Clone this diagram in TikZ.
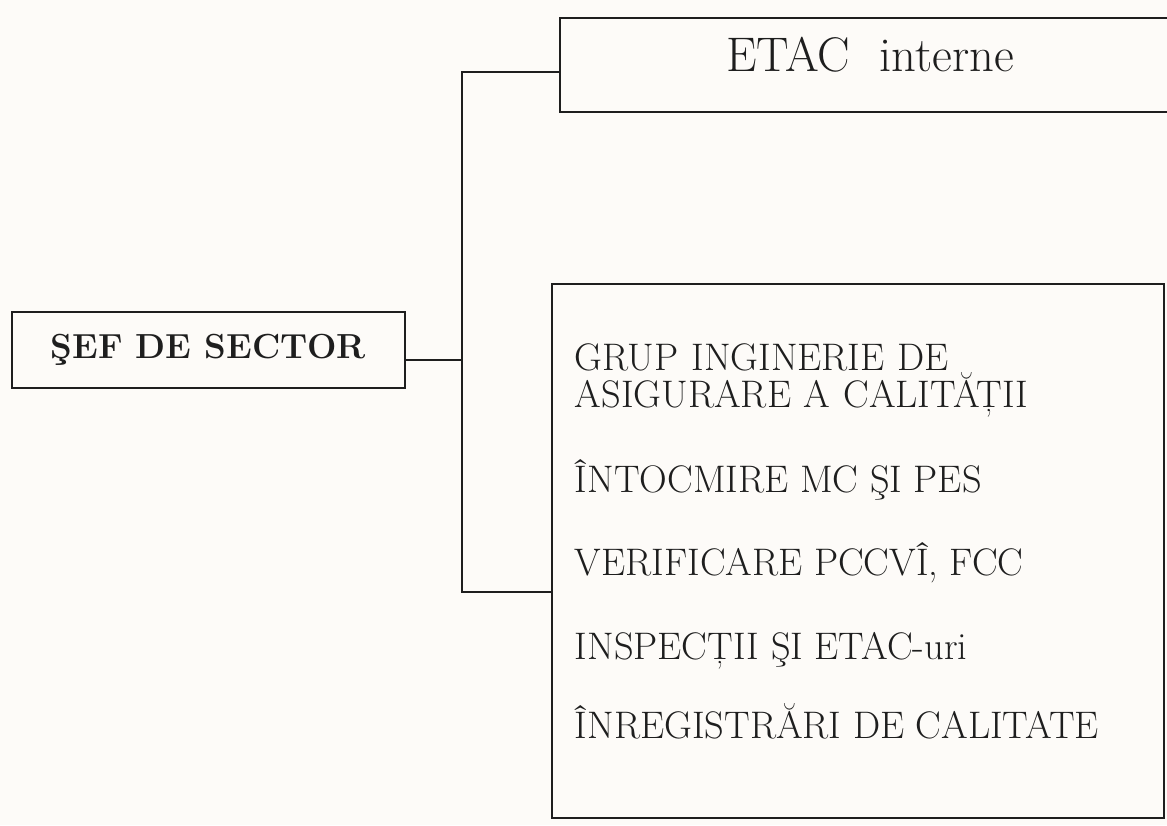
\documentclass[tikz,border=0pt]{standalone}
\usepackage{fontspec}
\usepackage{tikz}
\usetikzlibrary{positioning,calc}
\definecolor{ink}{RGB}{30,30,30}
\definecolor{paper}{RGB}{253,251,248}

\begin{document}
\begin{tikzpicture}[x=0.5pt,y=-0.5pt,line width=0.9pt,
  unitbox/.style={draw=ink,rectangle,inner sep=0pt,text=ink},
  taskline/.style={anchor=base west,inner sep=0pt,text=ink,font=\fontsize{19.2}{18.5}\selectfont}]
  \fill[paper] (0,0) rectangle (1167,825);
  \useasboundingbox (0,0) rectangle (1167,825);
  \clip (0,0) rectangle (1167,825);
  \node[unitbox,minimum width=196.5pt,minimum height=38pt,font=\fontsize{17.4}{20}\selectfont\bfseries] (sef) at (208.5,350) {ŞEF DE SECTOR};
  \node[unitbox,minimum width=310pt,minimum height=47pt,text height=16.6pt,text depth=10pt,
    font=\fontsize{24.3}{26}\selectfont] (etac) at (870,65) {ETAC~~interne};
  \node[unitbox,minimum width=306pt,minimum height=267pt] (tasks) at (858,551) {};
  \node[taskline,text width=284pt,align=left] (grup) at (574,370) {GRUP INGINERIE DE\\ ASIGURARE A CALITĂȚII};
  \node[taskline] (mc) at (574,492) {ÎNTOCMIRE MC ŞI PES};
  \node[taskline] (pccvi) at (574,575) {VERIFICARE PCCVÎ, FCC};
  \node[taskline] (insp) at (574,659) {INSPECȚII ŞI ETAC-uri};
  \node[taskline] (inreg) at (574,738) {ÎNREGISTRĂRI DE CALITATE};
  \coordinate (jtop) at (462,72);
  \coordinate (jbot) at (462,592);
  \coordinate (sefout) at ($(sef.east)+(0,10)$);
  \draw[ink] (sefout) -- (sefout -| jtop);
  \draw[ink] (etac.west |- jtop) -- (jtop) -- (jbot) -- (tasks.west |- jbot);
\end{tikzpicture}
\end{document}
